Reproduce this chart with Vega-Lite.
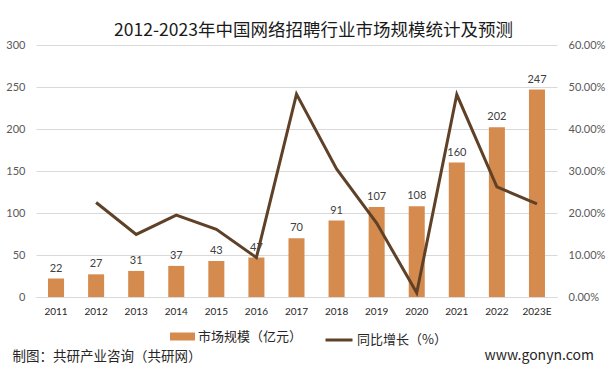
{
  "$schema": "https://vega.github.io/schema/vega-lite/v6.json",
  "width": 521,
  "height": 252,
  "autosize": "none",
  "padding": {"left": 36, "top": 45, "right": 55, "bottom": 72},
  "background": "white",
  "title": {
    "text": "2012-2023年中国网络招聘行业市场规模统计及预测",
    "fontSize": 17.5,
    "font": "Noto Sans CJK SC",
    "fontWeight": "normal",
    "color": "#1A1A1A",
    "anchor": "middle",
    "dx": 17,
    "offset": 0
  },
  "config": {
    "view": {"stroke": null},
    "axis": {"labelFont": "Lato", "titleFont": "Noto Sans CJK SC"}
  },
  "data": {
    "values": [
      {"year": "2011", "size": 22, "growth": null},
      {"year": "2012", "size": 27, "growth": 0.225},
      {"year": "2013", "size": 31, "growth": 0.149},
      {"year": "2014", "size": 37, "growth": 0.195},
      {"year": "2015", "size": 43, "growth": 0.161},
      {"year": "2016", "size": 47, "growth": 0.094},
      {"year": "2017", "size": 70, "growth": 0.483},
      {"year": "2018", "size": 91, "growth": 0.305},
      {"year": "2019", "size": 107, "growth": 0.176},
      {"year": "2020", "size": 108, "growth": 0.01},
      {"year": "2021", "size": 160, "growth": 0.482},
      {"year": "2022", "size": 202, "growth": 0.262},
      {"year": "2023E", "size": 247, "growth": 0.222}
    ]
  },
  "encoding": {
    "x": {
      "field": "year",
      "type": "ordinal",
      "sort": null,
      "scale": {"paddingInner": 0.6, "paddingOuter": 0.3},
      "axis": {
        "title": "制图：共研产业咨询（共研网）",
        "titleFontSize": 13.5,
        "titleFontWeight": "normal",
        "titleColor": "#262626",
        "titleAnchor": "start",
        "titleAlign": "left",
        "titleBaseline": "middle",
        "titleX": -24,
        "titleY": 59,
        "labelAngle": 0,
        "labelFontSize": 10,
        "labelColor": "#262626",
        "labelPadding": 9,
        "ticks": false,
        "domain": true,
        "domainColor": "#D9D9D9",
        "grid": false
      }
    }
  },
  "layer": [
    {
      "mark": {"type": "bar"},
      "encoding": {
        "y": {
          "field": "size",
          "type": "quantitative",
          "scale": {"domain": [0, 300]},
          "axis": {
            "title": null,
            "values": [0, 50, 100, 150, 200, 250, 300],
            "grid": true,
            "gridColor": "#D9D9D9",
            "domain": false,
            "ticks": false,
            "labelFontSize": 11,
            "labelColor": "#595959",
            "labelPadding": 11
          }
        },
        "fill": {
          "datum": "市场规模（亿元）",
          "scale": {"range": ["#D68B4E"]},
          "legend": {
            "orient": "none",
            "legendX": 134,
            "legendY": 279,
            "title": null,
            "symbolType": "M-1,-0.32H1V0.32H-1Z",
            "symbolSize": 625,
            "symbolStrokeWidth": 0,
            "labelFont": "Noto Sans CJK SC",
            "labelFontSize": 13,
            "labelColor": "#262626",
            "labelOffset": 3
          }
        }
      }
    },
    {
      "mark": {"type": "text", "dy": -10, "fontSize": 11, "color": "#404040", "font": "Lato"},
      "encoding": {
        "y": {"field": "size", "type": "quantitative", "scale": {"domain": [0, 300]}, "axis": null},
        "text": {"field": "size", "type": "quantitative"}
      }
    },
    {
      "mark": {"type": "line", "strokeWidth": 3},
      "encoding": {
        "y": {
          "field": "growth",
          "type": "quantitative",
          "scale": {"domain": [0, 0.6]},
          "axis": {
            "orient": "right",
            "format": ".2%",
            "values": [0, 0.1, 0.2, 0.3, 0.4, 0.5, 0.6],
            "grid": false,
            "domain": false,
            "ticks": false,
            "labelFontSize": 11,
            "labelColor": "#595959",
            "labelPadding": 11,
            "title": "www.gonyn.com",
            "titleAngle": 0,
            "titleFontSize": 14,
            "titleFontWeight": "normal",
            "titleColor": "#262626",
            "titleAlign": "left",
            "titleBaseline": "middle",
            "titleX": -73,
            "titleY": 310,
            "titleFont": "Noto Sans CJK SC"
          }
        },
        "stroke": {
          "datum": "同比增长（%）",
          "scale": {"range": ["#5F4128"]},
          "legend": {
            "orient": "none",
            "legendX": 288,
            "legendY": 280,
            "title": null,
            "symbolType": "stroke",
            "symbolSize": 729,
            "symbolStrokeWidth": 3,
            "labelFont": "Noto Sans CJK SC",
            "labelFontSize": 13,
            "labelColor": "#262626",
            "labelOffset": 3
          }
        }
      }
    }
  ],
  "resolve": {"scale": {"y": "independent", "fill": "independent", "stroke": "independent"}}
}
